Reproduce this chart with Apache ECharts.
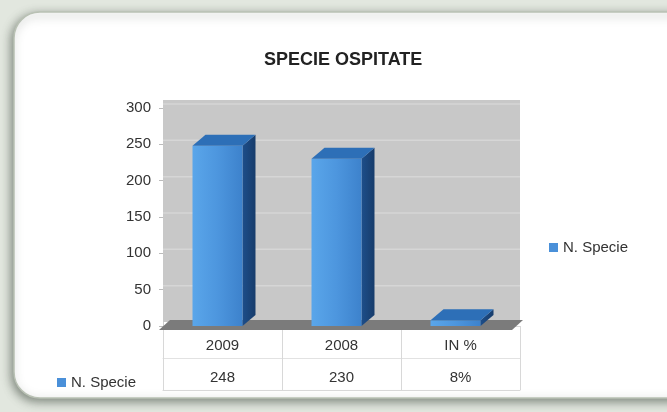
<!DOCTYPE html>
<html><head><meta charset="utf-8">
<script src="https://cdn.jsdelivr.net/npm/echarts@6/dist/echarts.min.js"></script>
<style>html,body{margin:0;padding:0;background:#e2e7df;}#c{width:667px;height:412px;}</style>
</head><body><div id="c"></div>
<script>
const categories = ['2009', '2008', 'IN %'];
const values = [248, 230, 8];
const valueSuffix = ['', '', '%'];
const yTicks = [0, 50, 100, 150, 200, 250, 300];
const seriesName = 'N. Specie';
const titleText = 'SPECIE OSPITATE';
const tableLabels = values.map((v, i) => v + valueSuffix[i]);

const FONT = '"Liberation Sans", Arial, sans-serif';
const chart = echarts.init(document.getElementById('c'));

function wallItem(params, api) {
  const cs = params.coordSys;
  const bottom = cs.y + cs.height;
  const children = [
    { type: 'rect', shape: { x: cs.x, y: cs.y - 8, width: cs.width, height: cs.height + 4 },
      style: { fill: '#c8c8c8' } }
  ];
  yTicks.forEach(t => {
    if (t === 0) return;
    const y = api.coord([0, t])[1] - 4;
    children.push({ type: 'line', shape: { x1: cs.x, y1: y, x2: cs.x + cs.width, y2: y },
      style: { stroke: '#d6d6d6', lineWidth: 1.5 } });
  });
  children.push({ type: 'polygon', shape: { points: [
      [cs.x - 4, bottom + 4], [cs.x + cs.width - 8, bottom + 4],
      [cs.x + cs.width + 3, bottom - 6], [cs.x + 7, bottom - 6]] },
    style: { fill: '#7b7b7b' } });
  return { type: 'group', children };
}

function barItem(params, api) {
  const i = api.value(0), v = api.value(1);
  const top = api.coord([i, v]);
  const base = api.coord([i, 0]);
  const w = api.size([1, 0])[0] * 0.42;
  const dx = 13, dy = 11;
  const L = top[0] - w / 2 - 5, R = L + w;
  const t = top[1], b = base[1];
  return { type: 'group', children: [
    { type: 'polygon', shape: { points: [[R, t], [R + dx, t - dy], [R + dx, b - dy], [R, b]] },
      style: { fill: new echarts.graphic.LinearGradient(0, 0, 1, 0, [
        { offset: 0, color: '#1d4e8a' }, { offset: 1, color: '#173c6b' }]) } },
    { type: 'rect', shape: { x: L, y: t, width: w, height: b - t },
      style: { fill: new echarts.graphic.LinearGradient(0, 0, 1, 0, [
        { offset: 0, color: '#5aa6ea' }, { offset: 0.5, color: '#4d96de' }, { offset: 1, color: '#3d82cc' }]) } },
    { type: 'polygon', shape: { points: [[L, t], [L + dx, t - dy], [R + dx, t - dy], [R, t]] },
      style: { fill: '#2d6fb7' } }
  ]};
}

chart.setOption({
  animation: false,
  backgroundColor: '#e2e7df',
  textStyle: { fontFamily: FONT },
  graphic: { elements: [
    { type: 'rect', z: -10, shape: { x: 14, y: 12, width: 720, height: 386, r: 26 },
      style: { fill: '#ffffff', stroke: '#b9c1b4', lineWidth: 1.5,
        shadowBlur: 10, shadowColor: 'rgba(50,60,50,0.55)', shadowOffsetX: -2, shadowOffsetY: 3 } }
  ]},
  title: { text: titleText, left: 259, top: 46,
    textStyle: { fontSize: 18, fontWeight: 'bold', color: '#222', fontFamily: FONT } },
  legend: [
    { data: [seriesName], left: 544, top: 235, icon: 'rect', itemWidth: 9, itemHeight: 9, itemGap: 6,
      textStyle: { fontSize: 15, color: '#333', fontFamily: FONT } },
    { data: [seriesName], left: 52, top: 370, icon: 'rect', itemWidth: 9, itemHeight: 9, itemGap: 6,
      textStyle: { fontSize: 15, color: '#333', fontFamily: FONT } }
  ],
  grid: { left: 163, right: 147, top: 108, bottom: 86 },
  xAxis: [
    { type: 'category', data: categories, position: 'bottom',
      axisLine: { show: true, lineStyle: { color: '#d8d8d8' } },
      axisTick: { show: true, length: 64, lineStyle: { color: '#d8d8d8' } },
      axisLabel: { margin: 12, fontSize: 15, color: '#333', fontFamily: FONT } },
    { type: 'category', data: tableLabels, position: 'bottom', offset: 32,
      axisLine: { show: true, lineStyle: { color: '#e2e2e2' } },
      axisTick: { show: false },
      axisLabel: { margin: 12, fontSize: 15, color: '#333', fontFamily: FONT } },
    { type: 'category', data: categories, position: 'bottom', offset: 64,
      axisLine: { show: true, lineStyle: { color: '#d8d8d8' } },
      axisTick: { show: false }, axisLabel: { show: false } }
  ],
  yAxis: { type: 'value', min: 0, max: 300, interval: 50,
    axisLine: { show: true, lineStyle: { color: '#cfcfcf' } },
    axisTick: { show: true, length: 4, lineStyle: { color: '#bbb' } },
    splitLine: { show: false },
    axisLabel: { margin: 12, fontSize: 15, color: '#333', fontFamily: FONT } },
  series: [
    { type: 'custom', name: 'wall', silent: true, z: 1, xAxisIndex: 0,
      renderItem: wallItem, data: [[0, 0]], tooltip: { show: false } },
    { type: 'custom', name: seriesName, z: 3, xAxisIndex: 0, itemStyle: { color: '#4a90d9' },
      renderItem: barItem, encode: { x: 0, y: 1 },
      data: values.map((v, i) => [i, v]) }
  ]
});
</script></body></html>
